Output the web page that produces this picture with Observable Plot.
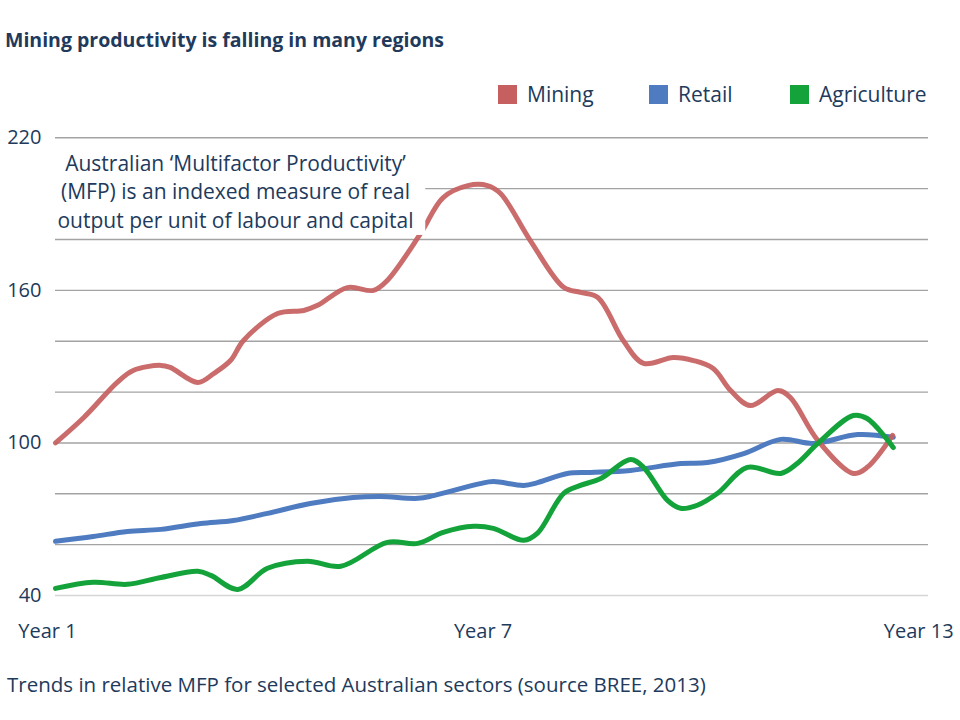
<!DOCTYPE html>
<html><head><meta charset="utf-8">
<script src="https://cdn.jsdelivr.net/npm/d3@7"></script>
<script src="https://cdn.jsdelivr.net/npm/@observablehq/plot@0.6"></script>
<style>
body{margin:0;background:#fff;font-family:"Open Sans",Lato,sans-serif;color:#213a5c;}
#wrap{position:relative;width:960px;height:720px;overflow:hidden;background:#fff}
#title{position:absolute;left:5px;top:28px;font-weight:bold;font-size:19.5px;line-height:23.4px;white-space:nowrap}
#legend{position:absolute;left:0;top:82px;width:960px;height:24px;font-size:21px;line-height:24px;white-space:nowrap}
#legend .item{position:absolute;top:0;display:flex;align-items:center;height:24px}
#legend .sw{width:19px;height:19px;margin-right:10px}
#chart{position:absolute;left:0;top:110px}
#caption{position:absolute;left:7px;top:672px;font-size:20.5px;line-height:24px;white-space:nowrap}
</style></head>
<body>
<div id="wrap">
  <div id="title"></div>
  <div id="legend"></div>
  <div id="chart"></div>
  <div id="caption"></div>
</div>
<script>
const titleText = "Mining productivity is falling in many regions";
const captionText = "Trends in relative MFP for selected Australian sectors (source BREE, 2013)";
const noteText = "Australian \u2018Multifactor Productivity\u2019\n(MFP) is an indexed measure of real\noutput per unit of labour and capital";

const seriesNames = ["Mining", "Retail", "Agriculture"];
const seriesColors = ["#c65f5f", "#4f7cc0", "#14a33b"];
const legendLeft = [498, 649, 790];

const xTicks = [1, 7, 13];
const yTicks = [40, 100, 160, 220];
const gridTicks = [40, 60, 80, 100, 120, 140, 160, 180, 200, 220];

// [year position, index value]
const mining = [
  [1.11,100],[1.50,110.0],[1.96,123.8],[2.18,128.5],[2.56,130.5],[2.69,129.7],[3.07,123.8],
  [3.29,127.3],[3.52,132.4],[3.70,140.3],[4.17,150.9],[4.53,152.1],[4.72,154.1],[5.13,161.1],
  [5.49,160.0],[5.68,163.9],[6.14,182.4],[6.45,196.5],[6.79,201.2],[7.06,201.2],[7.24,198.1],
  [7.65,179.6],[8.11,161.2],[8.34,159.2],[8.58,157.2],[8.93,140.3],[9.21,131.3],[9.62,133.6],
  [9.90,132.4],[10.17,129.3],[10.41,120.6],[10.68,114.7],[11.06,120.6],[11.23,117.9],
  [11.61,101.0],[12.10,88.0],[12.29,90.4],[12.64,103.0]
];
const retail = [
  [1.11,61.3],[1.63,63.2],[2.10,65.2],[2.56,66.0],[3.11,68.3],[3.56,69.5],[4.03,72.3],
  [4.62,76.2],[5.21,78.5],[5.59,78.9],[6.10,78.2],[6.32,79.3],[6.96,84.0],[7.14,84.8],
  [7.56,83.3],[7.75,84.4],[8.16,88.0],[8.48,88.4],[9.03,89.2],[9.72,91.9],[10.09,92.3],
  [10.59,95.8],[11.10,101.4],[11.55,99.8],[12.16,103.3],[12.65,102.2]
];
const agriculture = [
  [1.11,42.8],[1.63,45.2],[2.10,44.4],[2.56,47.1],[3.07,49.5],[3.25,47.9],[3.62,42.4],
  [4.03,50.7],[4.58,53.5],[5.04,51.5],[5.68,60.9],[6.10,60.5],[6.45,64.8],[6.87,67.2],
  [7.14,66.4],[7.56,61.7],[7.75,64.5],[8.11,80.2],[8.34,83.3],[8.62,86.0],[9.03,93.5],
  [9.21,90.4],[9.54,77.4],[9.72,74.3],[9.95,75.5],[10.23,80.2],[10.64,90.4],[11.10,88.0],
  [11.33,92.0],[11.61,99.8],[12.10,110.8],[12.29,109.6],[12.65,98.2]
];

// annotation box (data units) behind the note
const noteBox = [{x1: 1.11, x2: 6.21, y1: 181.6, y2: 219}];

const toRows = (pts, name) => pts.map(([t, v]) => ({t, v, name}));
const drawOrder = [[retail, "Retail"], [mining, "Mining"], [agriculture, "Agriculture"]];

document.getElementById("title").textContent = titleText;
document.getElementById("caption").textContent = captionText;
const leg = document.getElementById("legend");
seriesNames.forEach((n, i) => {
  const it = document.createElement("div"); it.className = "item"; it.style.left = legendLeft[i] + "px";
  const sw = document.createElement("div"); sw.className = "sw"; sw.style.background = seriesColors[i];
  const tx = document.createElement("span"); tx.textContent = n;
  it.appendChild(sw); it.appendChild(tx); leg.appendChild(it);
});

const textColor = "#213a5c";
const marks = [
  Plot.ruleY(gridTicks, {stroke: d => d === 40 ? "#d6d6d6" : "#a3a3a3", strokeWidth: 1.4}),
];
drawOrder.forEach(([pts, name]) => {
  marks.push(Plot.line(toRows(pts, name), {
    x: "t", y: "v", stroke: seriesColors[seriesNames.indexOf(name)],
    strokeWidth: 5, curve: "catmull-rom", strokeOpacity: name === "Mining" ? 0.92 : 1
  }));
});
marks.push(Plot.rect(noteBox, {x1: "x1", x2: "x2", y1: "y1", y2: "y2", fill: "white"}));
marks.push(Plot.text([noteText], {
  frameAnchor: "top-left", dx: 180, dy: 12.8, textAnchor: "middle", lineAnchor: "top",
  lineHeight: 1.357, fontSize: 21, fill: textColor
}));
marks.push(Plot.axisY(yTicks, {tickSize: 0, tickPadding: 14, fontSize: 20, color: textColor, label: null}));
marks.push(Plot.axisX(xTicks, {tickSize: 0, tickPadding: 28, fontSize: 20, color: textColor, label: null,
  tickFormat: d => "Year " + d}));

const chart = Plot.plot({
  width: 960, height: 545,
  marginTop: 27.3, marginBottom: 60, marginLeft: 55, marginRight: 32,
  style: {fontFamily: "'Open Sans', Lato, sans-serif", background: "white"},
  x: {domain: [1.11, 13.135], axis: null},
  y: {domain: [40, 220], axis: null},
  marks
});
document.getElementById("chart").appendChild(chart);
</script>
</body></html>
